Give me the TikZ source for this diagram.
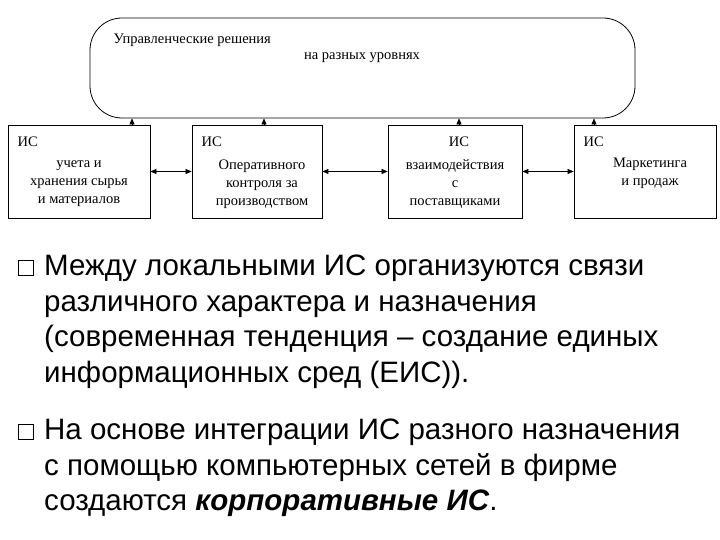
\documentclass[tikz,border=0pt]{standalone}
\usepackage{fontspec}
\setmainfont{Liberation Serif}
\newfontfamily\sans{Liberation Sans}
\usetikzlibrary{arrows.meta}
\begin{document}
\begin{tikzpicture}[x=1pt,y=-1pt,
  box/.style={draw,line width=0.8pt,minimum height=93pt,inner sep=0pt},
  lbl/.style={font=\fontsize{14.5}{18}\selectfont,align=center},
  arr/.style={-{Triangle[length=6pt,width=5pt]},line width=0.6pt},
  darr/.style={{Triangle[length=6pt,width=5pt]}-{Triangle[length=6pt,width=5pt]},line width=0.6pt},
  txt/.style={font=\sans\fontsize{29.5}{35.5}\selectfont,anchor=north west,align=left,inner sep=0pt}]
\useasboundingbox (0,0) rectangle (720,540);
\node[draw,line width=0.8pt,rounded corners=32pt,minimum width=545pt,minimum height=100pt] (top) at (362.5,68) {};
\node[lbl,anchor=west] (t1) at (110,40) {Управленческие решения};
\node[lbl] (t2) at (362,58) {на разных уровнях};
\node[box,minimum width=142pt] (b1) at (79,171.5) {};
\node[box,minimum width=130pt] (b2) at (257,171.5) {};
\node[box,minimum width=134pt] (b3) at (455,171.5) {};
\node[box,minimum width=142pt] (b4) at (645,171.5) {};
\node[lbl,anchor=west] (i1) at (14,142) {ИС};
\node[lbl] (s1) at (79,184) {учета и\\хранения сырья\\и материалов};
\node[lbl,anchor=west] (i2) at (198,142) {ИС};
\node[lbl] (s2) at (262,184) {Оперативного\\контроля за\\производством};
\node[lbl] (i3) at (459,142) {ИС};
\node[lbl] (s3) at (455,184) {взаимодействия\\с\\поставщиками};
\node[lbl,anchor=west] (i4) at (580,142) {ИС};
\node[lbl] (s4) at (650,173) {Маркетинга\\и продаж};
\draw[arr] (b1.north -| 132,0) -- (top.south -| 132,0);
\draw[arr] (b2.north -| 264,0) -- (top.south -| 264,0);
\draw[arr] (b3.north -| 459,0) -- (top.south -| 459,0);
\draw[arr] (b4.north -| 594,0) -- (top.south -| 594,0);
\draw[darr] (b1.east) -- (b2.west);
\draw[darr] (b2.east) -- (b3.west);
\draw[darr] (b3.east) -- (b4.west);
\node[draw,line width=1pt,minimum size=15pt,inner sep=0pt] (q1) at (26,268) {};
\node[draw,line width=1pt,minimum size=15pt,inner sep=0pt] (q2) at (26,432) {};
\node[txt] (p1) at (44,255) {Между локальными ИС организуются связи\\различного характера и назначения\\(современная тенденция – создание единых\\информационных сред (ЕИС)).};
\node[txt] (p2) at (44,419) {На основе интеграции ИС разного назначения\\с помощью компьютерных сетей в фирме\\создаются \textbf{\textit{корпоративные ИС}}.};
\end{tikzpicture}
\end{document}
